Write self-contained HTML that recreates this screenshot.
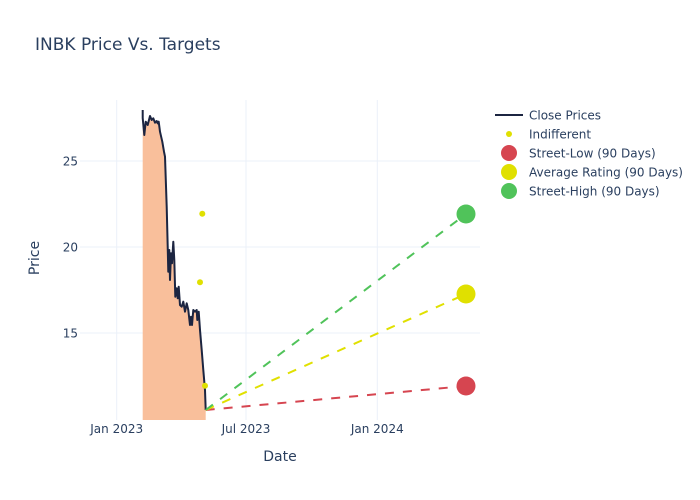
<!DOCTYPE html>
<html><head><meta charset="utf-8"><style>
html,body{margin:0;padding:0;background:#fff;}
svg{display:block;font-family:"DejaVu Sans","Liberation Sans",sans-serif;}
</style></head><body>
<svg width="700" height="500" viewBox="0 0 700 500" xmlns="http://www.w3.org/2000/svg">
<rect width="700" height="500" fill="#fff"/>
<defs><clipPath id="pa"><rect x="80" y="100" width="400" height="320"/></clipPath></defs>
<!-- grid -->
<g stroke="#EBF0F8" stroke-width="1">
<line x1="116.7" y1="100" x2="116.7" y2="420"/>
<line x1="246" y1="100" x2="246" y2="420"/>
<line x1="377.3" y1="100" x2="377.3" y2="420"/>
<line x1="80" y1="161" x2="480" y2="161"/>
<line x1="80" y1="247" x2="480" y2="247"/>
<line x1="80" y1="333" x2="480" y2="333"/>
</g>
<g clip-path="url(#pa)">
<path fill="rgb(249,191,155)" stroke="none" d="M142.7,420 L142.7,110 L142.7,118 L144.3,135 L145.7,121.7 L147.7,125 L150,116 L151.7,120 L153.3,118.3 L155,122.7 L156.7,121 L157.7,123.3 L158.7,121.7 L160,131.7 L162.3,141.7 L164,151.7 L165,156.7 L166.7,206.7 L167.7,246.7 L168.3,271.7 L169.3,250 L170,280 L171,253.3 L172,263.3 L173.3,241.7 L174.3,260 L175.3,296.7 L176.7,288.3 L177.7,298.3 L178.7,286.7 L180,305 L181.7,306.7 L183.3,301.7 L185,311.7 L186.7,303.3 L188.3,310 L190,325 L191,316.7 L192,325 L193.3,310 L195,311.7 L196.7,310 L197.3,320 L198.7,311.7 L200,330 L201.7,350 L203.3,370 L205,390 L205.7,410 L205.7,420 Z"/>
<path fill="none" stroke="#1c2541" stroke-width="2" stroke-linejoin="round" d="M142.7,110 L142.7,118 L144.3,135 L145.7,121.7 L147.7,125 L150,116 L151.7,120 L153.3,118.3 L155,122.7 L156.7,121 L157.7,123.3 L158.7,121.7 L160,131.7 L162.3,141.7 L164,151.7 L165,156.7 L166.7,206.7 L167.7,246.7 L168.3,271.7 L169.3,250 L170,280 L171,253.3 L172,263.3 L173.3,241.7 L174.3,260 L175.3,296.7 L176.7,288.3 L177.7,298.3 L178.7,286.7 L180,305 L181.7,306.7 L183.3,301.7 L185,311.7 L186.7,303.3 L188.3,310 L190,325 L191,316.7 L192,325 L193.3,310 L195,311.7 L196.7,310 L197.3,320 L198.7,311.7 L200,330 L201.7,350 L203.3,370 L205,390 L205.7,410"/>
<g fill="#e0e000">
<circle cx="202.3" cy="213.7" r="3"/>
<circle cx="200" cy="282.3" r="3"/>
<circle cx="205" cy="385.7" r="3"/>
</g>
<g stroke-width="2" stroke-dasharray="9,9" fill="none">
<line x1="205.7" y1="410" x2="466" y2="386" stroke="#d64550"/>
<line x1="205.7" y1="410" x2="466" y2="294" stroke="#e0e000"/>
<line x1="205.7" y1="410" x2="466" y2="214" stroke="#50c35a"/>
</g>
</g>
<circle cx="466" cy="386" r="9.5" fill="#d64550"/>
<circle cx="466" cy="294" r="9.5" fill="#e0e000"/>
<circle cx="466" cy="214" r="9.5" fill="#50c35a"/>
<!-- axes labels -->
<g fill="#2a3f5f" font-size="12">
<text x="78" y="165.5" text-anchor="end">25</text>
<text x="78" y="251.5" text-anchor="end">20</text>
<text x="78" y="337.5" text-anchor="end">15</text>
<text x="116.7" y="433" text-anchor="middle">Jan 2023</text>
<text x="246" y="433" text-anchor="middle">Jul 2023</text>
<text x="377.3" y="433" text-anchor="middle">Jan 2024</text>
</g>
<text x="280" y="461" text-anchor="middle" font-size="14" fill="#2a3f5f">Date</text>
<text transform="translate(39,258) rotate(-90)" text-anchor="middle" font-size="14" fill="#2a3f5f">Price</text>
<text x="35" y="50" font-size="17" fill="#2a3f5f">INBK Price Vs. Targets</text>
<!-- legend -->
<line x1="495" y1="115" x2="523" y2="115" stroke="#1c2541" stroke-width="2"/>
<circle cx="509" cy="134" r="3" fill="#e0e000"/>
<circle cx="509" cy="153" r="8" fill="#d64550"/>
<circle cx="509" cy="172" r="8" fill="#e0e000"/>
<circle cx="509" cy="191" r="8" fill="#50c35a"/>
<g fill="#2a3f5f" font-size="12">
<text x="529" y="119.5">Close Prices</text>
<text x="529" y="138.5">Indifferent</text>
<text x="529" y="157.5">Street-Low (90 Days)</text>
<text x="529" y="176.5">Average Rating (90 Days)</text>
<text x="529" y="195.5">Street-High (90 Days)</text>
</g>
</svg>
</body></html>
